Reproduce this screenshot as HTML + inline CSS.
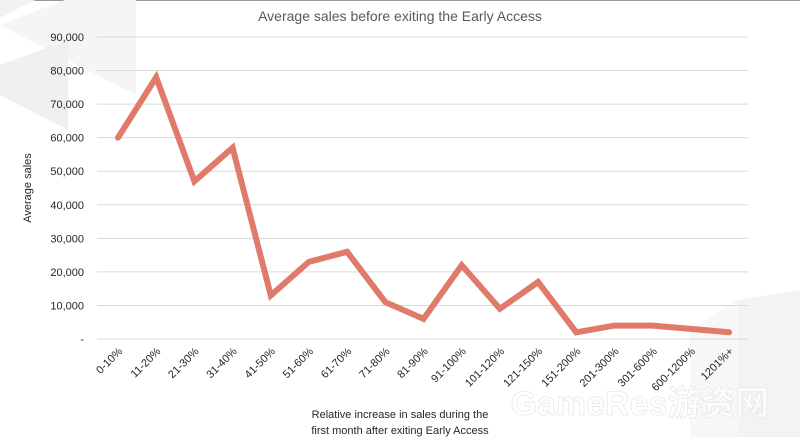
<!DOCTYPE html>
<html><head><meta charset="utf-8">
<style>
html,body{margin:0;padding:0;background:#fff;}
svg{display:block;font-family:"Liberation Sans","Noto Sans CJK SC",sans-serif;}
</style></head>
<body>
<svg id="chart" width="800" height="437" viewBox="0 0 800 437">
  <rect x="0" y="0" width="800" height="437" fill="#fff"/>
  <line x1="0" y1="0.5" x2="800" y2="0.5" stroke="#9a9a9a" stroke-width="1"/>
  <g fill="#f2f2f2">
    <polygon points="0,0 35,0 0,18"/>
    <polygon points="0,25 65,0 136,0 136,95 0,25" fill="#f5f5f5"/>
    <polygon points="0,65 68,40 68,130 0,95" fill="#f0f0f0"/>
    <polygon points="738,300 800,290 800,437 738,437" fill="#f3f3f3"/>
    <polygon points="690,330 738,300 738,437 690,437" fill="#f7f7f7"/>
  </g>
  <text x="400" y="21" text-anchor="middle" font-size="14" fill="#595959">Average sales before exiting the Early Access</text>
  <g id="grid"></g>
  <g id="yticks"></g>
  <g id="xticks"></g>
  <text transform="translate(31,188) rotate(-90)" text-anchor="middle" font-size="11" fill="#262626">Average sales</text>
  <text x="400" y="418" text-anchor="middle" font-size="11" fill="#262626">Relative increase in sales during the</text>
  <text x="400" y="434" text-anchor="middle" font-size="11" fill="#262626">first month after exiting Early Access</text>
  <path id="series" fill="none" stroke="#e07a6a" stroke-width="6" stroke-linejoin="miter" stroke-linecap="round"/>
  <text x="640" y="415" text-anchor="middle" font-size="34" font-weight="bold" fill="#ffffff" fill-opacity="0.75" stroke="#e8e8e8" stroke-width="0.8">GameRes游资网</text>
</svg>
<script>
const categories = ["0-10%","11-20%","21-30%","31-40%","41-50%","51-60%","61-70%","71-80%","81-90%","91-100%","101-120%","121-150%","151-200%","201-300%","301-600%","600-1200%","1201%+"];
const salesValues = [60000,78000,47000,57000,13000,23000,26000,11000,6000,22000,9000,17000,2000,4000,4000,3000,2000];
const yTickValues = [0,10000,20000,30000,40000,50000,60000,70000,80000,90000];
const yTickLabels = ["-","10,000","20,000","30,000","40,000","50,000","60,000","70,000","80,000","90,000"];

const NS="http://www.w3.org/2000/svg";
const plotL=97, plotR=748, y0=339, yTop=37, yMax=90000;
const xStart=118, xEnd=729;
function xScale(i){return xStart+(xEnd-xStart)*i/(categories.length-1);}
function yScale(v){return y0-(y0-yTop)*v/yMax;}

const grid=document.getElementById('grid'), yt=document.getElementById('yticks'), xt=document.getElementById('xticks');
yTickValues.forEach((v,i)=>{
  const y=yScale(v);
  const l=document.createElementNS(NS,'line');
  l.setAttribute('x1',plotL);l.setAttribute('x2',plotR);l.setAttribute('y1',y);l.setAttribute('y2',y);
  l.setAttribute('stroke','#d9d9d9');l.setAttribute('stroke-width','1');
  
  
  grid.appendChild(l);
  const t=document.createElementNS(NS,'text');
  t.setAttribute('x',84);t.setAttribute('y',y+4);t.setAttribute('text-anchor','end');
  t.setAttribute('font-size','11');t.setAttribute('fill','#262626');
  t.textContent=yTickLabels[i];
  
  
  yt.appendChild(t);
});
categories.forEach((c,i)=>{
  const x=xScale(i);
  const t=document.createElementNS(NS,'text');
  t.setAttribute('transform','translate('+(x+5)+',352) rotate(-45)');
  t.setAttribute('text-anchor','end');t.setAttribute('font-size','11');t.setAttribute('fill','#262626');
  t.textContent=c;
  
  
  xt.appendChild(t);
});
let d='';
salesValues.forEach((v,i)=>{d+=(i?'L':'M')+xScale(i).toFixed(1)+','+yScale(v).toFixed(1);});
document.getElementById('series').setAttribute('d',d);
</script>
</body></html>
